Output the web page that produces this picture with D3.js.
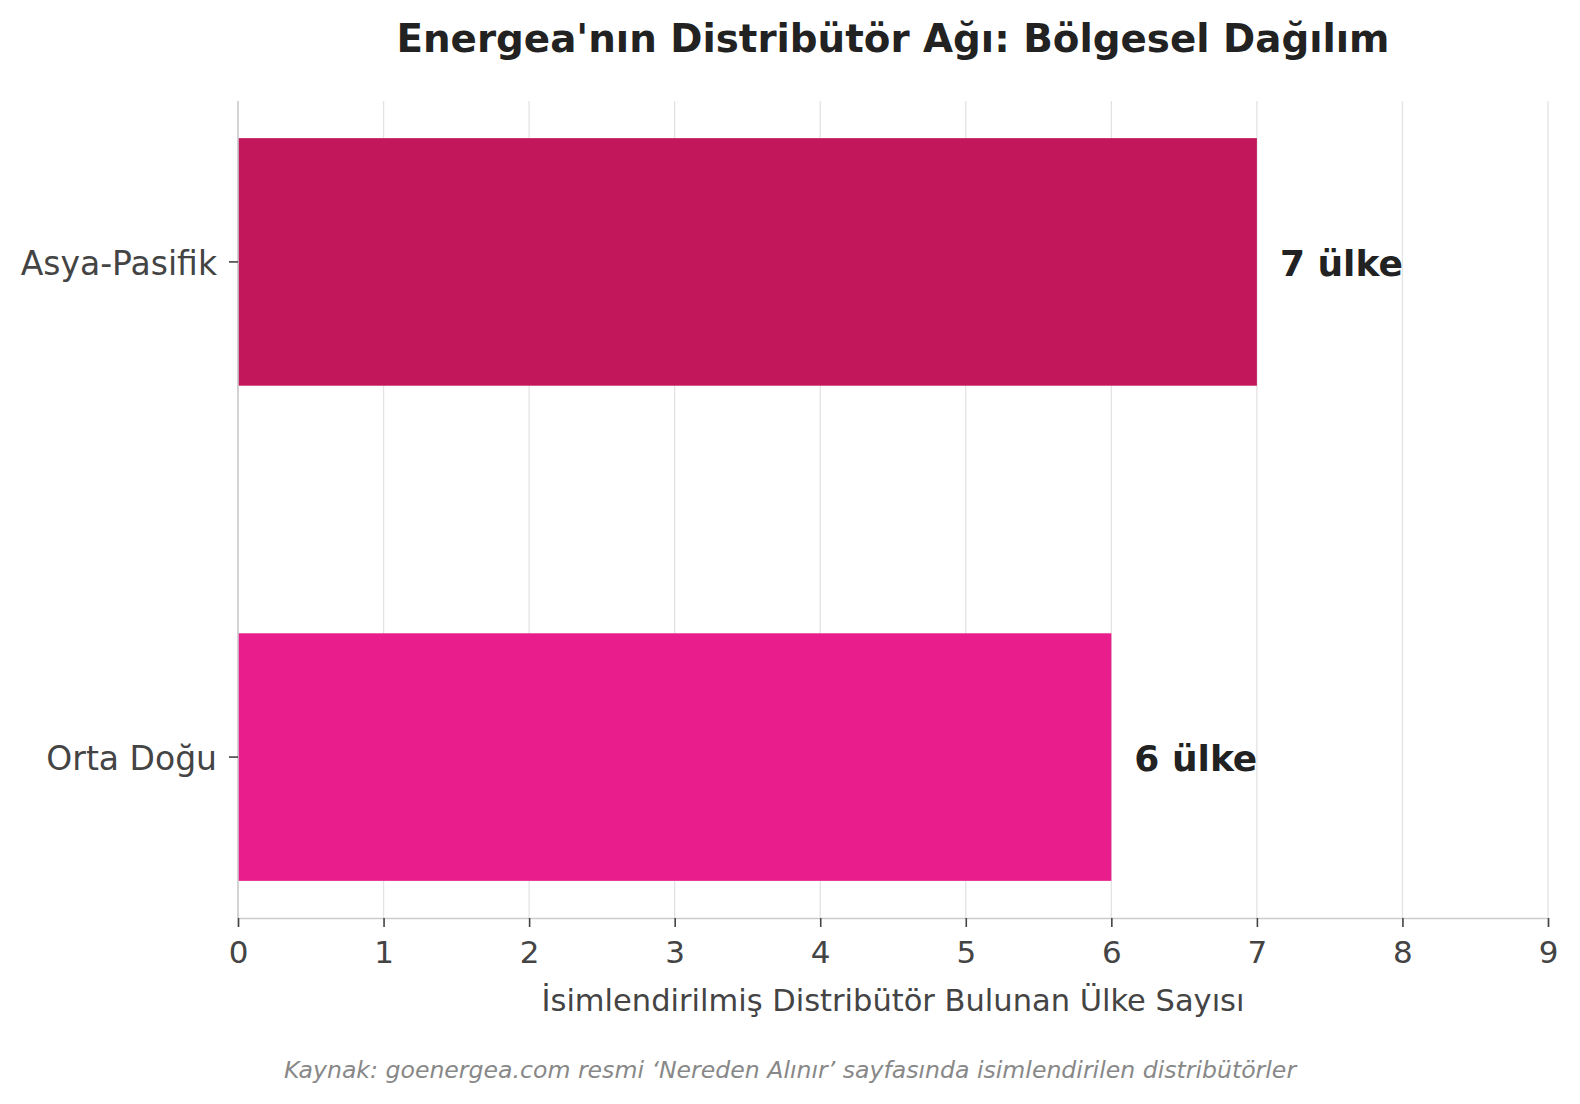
<!DOCTYPE html>
<html>
<head>
<meta charset="utf-8">
<script src="https://cdn.jsdelivr.net/npm/d3@7"></script>
<style>
	body { margin: 0; background: #fff; }
	svg { display: block; font-family: "DejaVu Sans", sans-serif; }
</style>
</head>
<body>
<svg id="chart" width="1580" height="1104"></svg>
<script>
// data
var regions = ['Asya-Pasifik', 'Orta Doğu'];
var counts = [7, 6];
var barColors = ['#C2185B', '#E91E8C'];
var xTicks = [0, 1, 2, 3, 4, 5, 6, 7, 8, 9];
var valueSuffix = ' ülke';

var titleText = "Energea'nın Distribütör Ağı: Bölgesel Dağılım";
var xLabelText = 'İsimlendirilmiş Distribütör Bulunan Ülke Sayısı';
var sourceText = 'Kaynak: goenergea.com resmi ‘Nereden Alınır’ sayfasında isimlendirilen distribütörler';

var W = 1580, H = 1104;
var margin = {top: 101, right: 32, bottom: 186, left: 238};

var svg = d3.select('#chart');

var x = d3.scaleLinear()
	.domain([0, 9])
	.range([margin.left, W - margin.right]);

var y = d3.scaleBand()
	.domain(regions)
	.range([margin.top, H - margin.bottom])
	.paddingInner(0.5)
	.paddingOuter(0.075);

var y0 = margin.top, y1 = H - margin.bottom;

// gridlines
svg.append('g')
	.selectAll('line')
	.data(xTicks)
	.enter()
	.append('line')
	.attr('x1', function(d) {return x(d);})
	.attr('x2', function(d) {return x(d);})
	.attr('y1', y0)
	.attr('y2', y1)
	.attr('stroke', '#e3e3e3')
	.attr('stroke-width', 1.3);

// bars
var rows = regions.map(function(r, i) {return {region: r, count: counts[i], color: barColors[i]};});

svg.append('g')
	.selectAll('rect')
	.data(rows)
	.enter()
	.append('rect')
	.attr('x', x(0))
	.attr('y', function(d) {return y(d.region);})
	.attr('width', function(d) {return x(d.count) - x(0);})
	.attr('height', y.bandwidth())
	.attr('fill', function(d) {return d.color;});

// value labels
svg.append('g')
	.selectAll('text')
	.data(rows)
	.enter()
	.append('text')
	.attr('x', function(d) {return x(d.count) + 23;})
	.attr('y', function(d) {return y(d.region) + y.bandwidth() / 2 + 1;})
	.attr('dy', '0.35em')
	.attr('font-size', 36)
	.attr('font-weight', 'bold')
	.attr('fill', '#222')
	.text(function(d) {return d.count + valueSuffix;});

// x axis
var xAxis = svg.append('g')
	.attr('transform', 'translate(0,' + y1 + ')')
	.call(d3.axisBottom(x).tickValues(xTicks).tickFormat(d3.format('d')).tickSize(9).tickPadding(14));
xAxis.select('.domain').attr('stroke', '#cccccc').attr('stroke-width', 1.6);
xAxis.selectAll('.tick line').attr('stroke', '#444').attr('stroke-width', 1.6);
xAxis.selectAll('.tick text').attr('font-size', 31).attr('fill', '#444').attr('font-family', 'DejaVu Sans');

// y axis
var yAxis = svg.append('g')
	.attr('transform', 'translate(' + x(0) + ',0)')
	.call(d3.axisLeft(y).tickSize(9).tickPadding(12));
yAxis.select('.domain').attr('stroke', '#cccccc').attr('stroke-width', 1.6)
	.attr('d', 'M0,' + y0 + 'V' + y1);
yAxis.selectAll('.tick line').attr('stroke', '#444').attr('stroke-width', 1.6);
yAxis.selectAll('.tick text').attr('font-size', 33).attr('fill', '#444').attr('font-family', 'DejaVu Sans')
	.attr('dy', '0.4em');

// title
svg.append('text')
	.attr('x', (x(0) + x(9)) / 2)
	.attr('y', 52)
	.attr('text-anchor', 'middle')
	.attr('font-size', 38.8)
	.attr('font-weight', 'bold')
	.attr('fill', '#222')
	.text(titleText);

// x label
svg.append('text')
	.attr('x', (x(0) + x(9)) / 2)
	.attr('y', 1011)
	.attr('text-anchor', 'middle')
	.attr('font-size', 30.5)
	.attr('fill', '#444')
	.text(xLabelText);

// source note
svg.append('text')
	.attr('x', W / 2)
	.attr('y', 1078)
	.attr('text-anchor', 'middle')
	.attr('font-size', 23.6)
	.attr('font-style', 'italic')
	.attr('fill', '#888')
	.text(sourceText);
</script>
</body>
</html>
